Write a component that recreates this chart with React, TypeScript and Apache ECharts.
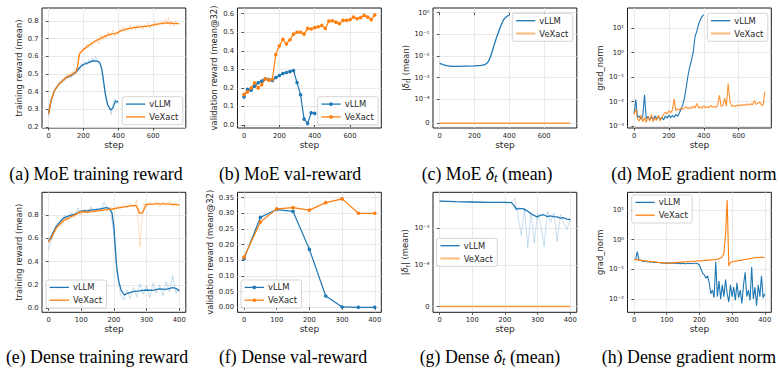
import React, { useEffect, useRef } from 'react';
import * as echarts from 'echarts';

const BLUE = '#1f77b4';
const ORANGE = '#ff7f0e';
const INK = '#262626';
const GRID_LINE = '#e4e4e4';
const SANS = 'DejaVu Sans';
const SERIF = 'Liberation Serif';

// ---------- (a) MoE training reward ----------
const moeTrainRawStep = 10;
const moeTrainVeXactRaw = [
  0.26, 0.33, 0.36, 0.4, 0.41, 0.43, 0.44, 0.46, 0.45, 0.48,
  0.47, 0.5, 0.48, 0.51, 0.49, 0.52, 0.5, 0.57, 0.63, 0.62,
  0.65, 0.64, 0.67, 0.65, 0.68, 0.66, 0.69, 0.68, 0.7, 0.67,
  0.72, 0.69, 0.72, 0.7, 0.74, 0.71, 0.73, 0.75, 0.71, 0.74,
  0.72, 0.76, 0.74, 0.77, 0.74, 0.76, 0.75, 0.78, 0.75, 0.77,
  0.75, 0.78, 0.76, 0.78, 0.75, 0.78, 0.76, 0.79, 0.76, 0.78,
  0.77, 0.8, 0.77, 0.79, 0.78, 0.8, 0.78, 0.81, 0.79, 0.82,
  0.77, 0.8, 0.77, 0.8, 0.78, 0.79,
];
const moeTrainVllmRaw = [
  0.26, 0.33, 0.37, 0.39, 0.42, 0.43, 0.45, 0.45, 0.47, 0.46,
  0.49, 0.48, 0.5, 0.48, 0.51, 0.5, 0.52, 0.53, 0.52, 0.56,
  0.54, 0.57, 0.55, 0.58, 0.56, 0.59, 0.57, 0.6, 0.58, 0.57,
  0.55, 0.5, 0.42, 0.35, 0.33, 0.3, 0.27, 0.33, 0.36, 0.33,
  0.35,
];
const moeTrainVeXactSmooth: [number, number][] = [
  [0, 0.275], [15, 0.35], [34, 0.405], [63, 0.446], [101, 0.48], [130, 0.493], [158, 0.512],
  [168, 0.55], [177, 0.612], [196, 0.635], [234, 0.664], [272, 0.688], [310, 0.707], [349, 0.724],
  [387, 0.73], [425, 0.749], [463, 0.758], [501, 0.764], [539, 0.768], [577, 0.772], [615, 0.781],
  [653, 0.787], [692, 0.79], [711, 0.787], [750, 0.785],
];
const moeTrainVllmSmooth: [number, number][] = [
  [0, 0.275], [15, 0.35], [34, 0.405], [63, 0.446], [101, 0.478], [130, 0.49], [158, 0.51],
  [177, 0.535], [196, 0.552], [225, 0.563], [253, 0.574], [282, 0.573], [295, 0.56], [305, 0.53],
  [314, 0.47], [326, 0.385], [339, 0.325], [358, 0.294], [371, 0.31], [383, 0.345], [396, 0.342],
  [400, 0.34],
];

// ---------- (b) MoE validation reward ----------
const moeValSteps = [
  0, 20, 40, 60, 80, 100, 120, 140, 160, 180, 200, 220, 240, 260, 280, 300, 320, 340, 360,
  380, 400, 420, 440, 460, 480, 500, 520, 540, 560, 580, 600, 620, 640, 660, 680, 700, 720, 740,
];
const moeValVeXact = [
  0.165, 0.179, 0.2, 0.228, 0.2, 0.218, 0.249, 0.242, 0.247, 0.38,
  0.427, 0.462, 0.437, 0.46, 0.49, 0.5, 0.5, 0.49, 0.521, 0.518,
  0.525, 0.53, 0.537, 0.521, 0.56, 0.562, 0.555, 0.547, 0.564, 0.564,
  0.568, 0.582, 0.573, 0.579, 0.591, 0.582, 0.568, 0.593,
];
const moeValVllm = [
  0.152, 0.192, 0.188, 0.21, 0.228, 0.237, 0.249, 0.245, 0.24, 0.256,
  0.267, 0.278, 0.283, 0.288, 0.294, 0.229, 0.163, 0.032, 0.009, 0.066,
  0.063,
];

// ---------- (c) MoE |delta_t| (mean) ----------
const moeDeltaVllm: [number, number][] = [
  [0, 4.5e-3], [20, 4.0e-3], [40, 3.6e-3], [70, 3.3e-3], [100, 3.3e-3], [150, 3.4e-3],
  [200, 3.5e-3], [240, 3.7e-3], [260, 4.0e-3], [272, 4.6e-3], [282, 6.0e-3], [292, 9.0e-3],
  [302, 1.6e-2], [315, 3.6e-2], [328, 7.5e-2], [340, 0.14], [352, 0.25], [366, 0.45],
  [380, 0.62], [394, 0.74], [400, 0.76],
];
const moeDeltaVeXact: [number, number][] = [[0, 0], [750, 0]];

// ---------- (d) MoE gradient norm ----------
const moeGradStep = 10;
const moeGradVllm = [
  3.3e-3, 1.2e-2, 2.2e-3, 2.6e-3, 1.9e-3, 2.4e-3, 1.9e-2, 2.0e-3, 2.5e-3, 1.8e-3,
  2.3e-3, 1.9e-3, 2.6e-3, 2.0e-3, 2.4e-3, 1.9e-3, 2.2e-3, 1.8e-3, 2.6e-3, 2.1e-3,
  2.8e-3, 2.2e-3, 2.7e-3, 2.3e-3, 3.0e-3, 2.5e-3, 3.4e-3, 5.0e-3, 7.5e-3, 1.5e-2,
  4.0e-2, 0.12, 0.27, 0.5, 1.1, 4.6, 7.5, 14, 22, 30,
  36,
];
const moeGradVeXact = [
  3.0e-3, 5.0e-3, 2.0e-3, 1.6e-3, 2.8e-3, 1.5e-3, 2.2e-3, 1.4e-3, 2.5e-3, 1.6e-3,
  3.0e-3, 1.5e-3, 2.2e-3, 1.7e-3, 2.8e-3, 1.6e-3, 2.4e-3, 3.0e-3, 3.6e-3, 3.2e-3,
  4.2e-3, 3.5e-3, 4.5e-3, 1.3e-2, 4.2e-3, 5.0e-3, 4.5e-3, 5.5e-3, 4.8e-3, 5.5e-3,
  6.2e-3, 5.0e-3, 6.0e-3, 5.2e-3, 6.5e-3, 5.4e-3, 8.5e-3, 5.5e-3, 6.2e-3, 5.3e-3,
  6.8e-3, 5.5e-3, 6.3e-3, 5.6e-3, 7.0e-3, 5.8e-3, 6.4e-3, 5.7e-3, 7.5e-3, 1.8e-2,
  6.2e-3, 7.0e-3, 1.4e-2, 6.5e-3, 5.5e-2, 1.0e-2, 6.5e-3, 7.0e-3, 6.3e-3, 7.2e-3,
  6.6e-3, 7.5e-3, 6.8e-3, 7.8e-3, 7.0e-3, 8.0e-3, 7.2e-3, 8.2e-3, 7.5e-3, 1.1e-2,
  7.8e-3, 8.5e-3, 9.5e-3, 7.5e-3, 7.0e-3, 2.6e-2,
];

// ---------- (e) Dense training reward ----------
const denseTrainRawStep = 10;
const denseTrainVeXactRaw = [
  0.55, 0.62, 0.66, 0.72, 0.7, 0.78, 0.74, 0.8, 0.77, 0.84,
  0.8, 0.85, 0.81, 0.86, 0.82, 0.85, 0.83, 0.86, 0.84, 0.87,
  0.84, 0.88, 0.85, 0.89, 0.86, 0.9, 0.87, 0.93, 0.53, 0.9,
  0.87, 0.91, 0.88, 0.92, 0.87, 0.91, 0.88, 0.92, 0.87, 0.91,
  0.88,
];
const denseTrainVllmRaw = [
  0.5, 0.6, 0.68, 0.73, 0.72, 0.8, 0.76, 0.82, 0.79, 0.86,
  0.81, 0.85, 0.82, 0.87, 0.83, 0.86, 0.84, 0.91, 0.86, 0.84,
  0.62, 0.3, 0.12, 0.07, 0.16, 0.08, 0.18, 0.1, 0.21, 0.12,
  0.19, 0.09, 0.22, 0.13, 0.2, 0.11, 0.23, 0.14, 0.28, 0.13,
  0.17,
];
const denseTrainVeXactSmooth: [number, number][] = [
  [0, 0.571], [8, 0.6], [23, 0.686], [44, 0.749], [64, 0.777], [84, 0.806], [100, 0.829],
  [115, 0.823], [135, 0.829], [156, 0.837], [176, 0.843], [196, 0.851], [217, 0.863],
  [237, 0.871], [258, 0.88], [268, 0.88], [274, 0.85], [278, 0.814], [288, 0.82], [294, 0.86],
  [298, 0.891], [329, 0.894], [359, 0.894], [380, 0.891], [400, 0.886],
];
const denseTrainVllmSmooth: [number, number][] = [
  [0, 0.571], [23, 0.7], [44, 0.771], [64, 0.794], [84, 0.809], [100, 0.834], [115, 0.834],
  [135, 0.843], [156, 0.849], [176, 0.863], [186, 0.857], [194, 0.82], [200, 0.7], [205, 0.49],
  [209, 0.343], [215, 0.229], [222, 0.157], [232, 0.114], [242, 0.129], [258, 0.143],
  [278, 0.149], [298, 0.157], [319, 0.154], [339, 0.166], [359, 0.163], [380, 0.177],
  [390, 0.171], [400, 0.149],
];

// ---------- (f) Dense validation reward ----------
const denseValSteps = [0, 50, 100, 150, 200, 250, 300, 350, 400];
const denseValVllm = [0.155, 0.287, 0.312, 0.306, 0.185, 0.036, 0.001, 0.0, 0.0];
const denseValVeXact = [0.16, 0.272, 0.314, 0.318, 0.31, 0.334, 0.346, 0.3, 0.3];

// ---------- (g) Dense |delta_t| (mean) ----------
const denseDeltaRawStep = 10;
const denseDeltaVllmRaw = [
  5.6e-3, 5.5e-3, 5.4e-3, 5.4e-3, 5.3e-3, 5.3e-3, 5.3e-3, 5.2e-3, 5.2e-3, 5.2e-3,
  5.2e-3, 5.1e-3, 5.2e-3, 5.1e-3, 5.1e-3, 5.1e-3, 5.1e-3, 5.0e-3, 5.1e-3, 5.0e-3,
  5.1e-3, 5.0e-3, 5.2e-3, 6.5e-3, 2.3e-3, 6.5e-4, 3.5e-3, 3.0e-4, 2.8e-3, 4.0e-4,
  2.6e-3, 1.2e-3, 3.2e-4, 2.9e-3, 1.5e-3, 2.6e-3, 4.5e-4, 2.4e-3, 1.4e-3, 9.5e-4,
  1.8e-3,
];
const denseDeltaVllmSmooth: [number, number][] = [
  [0, 5.5e-3], [50, 5.3e-3], [100, 5.2e-3], [150, 5.1e-3], [200, 5.1e-3], [220, 5.0e-3],
  [228, 4.2e-3], [235, 3.3e-3], [245, 3.5e-3], [257, 3.4e-3], [268, 3.0e-3], [280, 2.5e-3],
  [298, 2.05e-3], [310, 2.3e-3], [318, 2.35e-3], [330, 2.1e-3], [339, 2.2e-3], [350, 2.1e-3],
  [359, 2.05e-3], [370, 1.9e-3], [380, 1.95e-3], [390, 1.8e-3], [400, 1.75e-3],
];
const denseDeltaVeXact: [number, number][] = [[0, 0], [400, 0]];

// ---------- (h) Dense gradient norm ----------
const denseGradStep = 5;
const denseGradVllm = [
  0.22, 0.21, 0.4, 0.2, 0.2, 0.19, 0.19, 0.185, 0.18, 0.18,
  0.175, 0.18, 0.17, 0.175, 0.17, 0.17, 0.165, 0.17, 0.16, 0.165,
  0.16, 0.165, 0.16, 0.16, 0.165, 0.16, 0.16, 0.155, 0.16, 0.155,
  0.16, 0.155, 0.155, 0.16, 0.155, 0.16, 0.155, 0.16, 0.16, 0.155,
  0.14, 0.1, 0.075, 0.065, 0.05, 0.06, 0.035, 0.015, 0.02, 0.011,
  0.18, 0.012, 0.04, 0.01, 0.03, 0.012, 0.045, 0.015, 0.008, 0.03,
  0.012, 0.025, 0.009, 0.035, 0.011, 0.02, 0.007, 0.03, 0.08, 0.012,
  0.02, 0.009, 0.12, 0.01, 0.025, 0.006, 0.03, 0.012, 0.06, 0.011,
  0.015,
];
const denseGradVeXact = [
  0.22, 0.21, 0.215, 0.2, 0.205, 0.2, 0.195, 0.19, 0.19, 0.185,
  0.185, 0.18, 0.18, 0.175, 0.175, 0.17, 0.17, 0.165, 0.165, 0.16,
  0.165, 0.16, 0.165, 0.17, 0.165, 0.17, 0.17, 0.175, 0.17, 0.175,
  0.18, 0.175, 0.18, 0.185, 0.18, 0.185, 0.19, 0.185, 0.19, 0.195,
  0.19, 0.2, 0.195, 0.2, 0.205, 0.2, 0.21, 0.205, 0.21, 0.215,
  0.21, 0.22, 0.23, 0.24, 0.27, 0.35, 1.5, 22, 0.13, 0.17,
  0.18, 0.185, 0.19, 0.19, 0.2, 0.2, 0.205, 0.21, 0.215, 0.22,
  0.225, 0.23, 0.235, 0.24, 0.245, 0.25, 0.255, 0.25, 0.26, 0.25,
  0.25,
];

// ---------- axis tick values ----------
const moeStepTicks = [0, 200, 400, 600];
const denseStepTicks = [0, 100, 200, 300, 400];
const moeTrainTicks = [0.2, 0.3, 0.4, 0.5, 0.6, 0.7, 0.8];
const moeValTicks = [0.0, 0.1, 0.2, 0.3, 0.4, 0.5, 0.6];
const denseTrainTicks = [0.0, 0.2, 0.4, 0.6, 0.8];
const denseValTicks = [0.0, 0.05, 0.1, 0.15, 0.2, 0.25, 0.3, 0.35];
const moeGradTicks = [1e-3, 1e-2, 1e-1, 1e0, 1e1];
const denseGradTicks = [1e-2, 1e-1, 1e0, 1e1];

const captions = [
  '(a) MoE training reward',
  '(b) MoE val-reward',
  '(c) MoE {i|δ}{s|t} (mean)',
  '(d) MoE gradient norm',
  '(e) Dense training reward',
  '(f) Dense val-reward',
  '(g) Dense {i|δ}{s|t} (mean)',
  '(h) Dense gradient norm',
];

// symmetric-log transform (linthresh 1e-4, linscale 1), in decades
const LINTHRESH = 1e-4;
const symlog = (v: number) =>
  v >= LINTHRESH ? Math.log10(v) : Math.log10(LINTHRESH) - (1 - v / LINTHRESH) / 0.9;
const SYMLOG_ZERO = symlog(0);

const SUP: Record<string, string> = { '-': '⁻', '0': '⁰', '1': '¹', '2': '²', '3': '³', '4': '⁴' };
const pow10Label = (e: number) => '10' + String(e).split('').map((c) => SUP[c]).join('');

// layout of the 2 x 4 panels
const COL_LEFT = [42, 237.5, 433, 627.5];
const ROW_TOP = [8, 192.3];
const PLOT_W = 143.8;
const PLOT_H = 120;
const CAPTION_X = [96, 290, 487, 694, 97, 293, 490, 689];
const CAPTION_Y = [174, 357];

const withSteps = (vals: number[], step: number) => vals.map((v, i) => [i * step, v]);
const zip = (xs: number[], ys: number[]) => ys.map((v, i) => [xs[i], v]);

function lineSeries(name: string, gi: number, data: any[], color: string, extra: any = {}) {
  const { width = 1.3, opacity = 1, symbol = 'none', z = 2 } = extra;
  return {
    type: 'line',
    name,
    xAxisIndex: gi,
    yAxisIndex: gi,
    data,
    symbol,
    symbolSize: 3.6,
    showSymbol: symbol !== 'none',
    silent: true,
    z,
    lineStyle: { color, width, opacity },
    itemStyle: { color, opacity },
  };
}

const tickStyle = { show: true, length: 2.5, inside: false, lineStyle: { color: INK, width: 0.8 } };
const labelStyle = { fontSize: 6.8, fontFamily: SANS, color: INK };

function xAxisFor(gi: number) {
  const top = gi < 4;
  const ticks = top ? moeStepTicks : denseStepTicks;
  const range = gi === 1 ? [-37, 777] : top ? [-37.5, 787.5] : [-20, 420];
  return {
    type: 'value',
    gridIndex: gi,
    min: range[0],
    max: range[1],
    name: 'step',
    nameLocation: 'middle',
    nameGap: top ? 12.5 : 12,
    nameTextStyle: { fontSize: 9, fontFamily: SANS, color: INK },
    axisLine: { show: false },
    axisTick: { ...tickStyle, customValues: ticks },
    axisLabel: { ...labelStyle, margin: 4, customValues: ticks, formatter: (v: number) => String(Math.round(v)) },
    splitLine: { show: true, lineStyle: { color: GRID_LINE, width: 0.8 } },
  };
}

function yAxisFor(gi: number, cfg: any) {
  return {
    type: cfg.type || 'value',
    logBase: 10,
    gridIndex: gi,
    min: cfg.min,
    max: cfg.max,
    name: cfg.name,
    nameLocation: 'middle',
    nameRotate: 90,
    nameGap: cfg.nameGap,
    nameTextStyle: {
      fontSize: 8.4,
      fontFamily: SANS,
      color: INK,
      lineHeight: 10,
      rich: {
        i: { fontSize: 8.4, fontFamily: SANS, fontStyle: 'italic', color: INK, lineHeight: 10 },
        s: { fontSize: 6, fontFamily: SANS, fontStyle: 'italic', color: INK, lineHeight: 6, verticalAlign: 'bottom' },
      },
    },
    axisLine: { show: false },
    axisTick: { ...tickStyle, customValues: cfg.ticks },
    axisLabel: { ...labelStyle, margin: 3.5, customValues: cfg.ticks, formatter: cfg.formatter },
    splitLine: { show: true, lineStyle: { color: GRID_LINE, width: 0.8 } },
  };
}

const fixed = (d: number) => (v: number) => v.toFixed(d);
const logFmt = (v: number) => pow10Label(Math.round(Math.log10(v)));
const symlogFmt = (v: number) => (Math.abs(v - SYMLOG_ZERO) < 0.01 ? '0' : pow10Label(Math.round(v)));

function legendBox(x: number, y: number, entries: any[]) {
  const children: any[] = [
    {
      type: 'rect',
      z: 50,
      shape: { x: 0, y: 0, width: 60.5, height: 28, r: 2 },
      style: { fill: 'rgba(255,255,255,0.85)', stroke: '#cccccc', lineWidth: 0.8 },
    },
  ];
  entries.forEach((e, i) => {
    const ly = 7.4 + i * 12.8;
    children.push({
      type: 'line',
      z: 51,
      shape: { x1: 3.7, y1: ly, x2: 23, y2: ly },
      style: { stroke: e.color, lineWidth: e.width || 1.3, opacity: e.opacity || 1 },
    });
    if (e.marker) {
      children.push({ type: 'circle', z: 52, shape: { cx: 13.3, cy: ly, r: 1.8 }, style: { fill: e.color } });
    }
    children.push({
      type: 'text',
      z: 52,
      x: 27,
      y: ly,
      style: { text: e.label, fontSize: 8.4, fontFamily: SANS, fill: INK, align: 'left', verticalAlign: 'middle' },
    });
  });
  return { type: 'group', x, y, children };
}

function buildOption() {
  const grids = Array.from({ length: 8 }, (_, gi) => ({
    left: COL_LEFT[gi % 4],
    top: ROW_TOP[Math.floor(gi / 4)],
    width: PLOT_W,
    height: PLOT_H,
    show: true,
    borderColor: '#1a1a1a',
    borderWidth: 1,
    backgroundColor: 'transparent',
    containLabel: false,
    outerBoundsMode: 'none',
  }));

  const xAxes = grids.map((_, gi) => xAxisFor(gi));
  const yAxes = [
    yAxisFor(0, { min: 0.193, max: 0.874, ticks: moeTrainTicks, formatter: fixed(1), name: 'training reward (mean)', nameGap: 16.8 }),
    yAxisFor(1, { min: -0.016, max: 0.631, ticks: moeValTicks, formatter: fixed(1), name: 'validation reward (mean@32)', nameGap: 16.3 }),
    yAxisFor(2, { min: -5.328, max: 0.217, ticks: [SYMLOG_ZERO, -4, -3, -2, -1, 0], formatter: symlogFmt, name: '|{i|δ}{s|t}| (mean)', nameGap: 18.5 }),
    yAxisFor(3, { type: 'log', min: Math.pow(10, -3.08), max: Math.pow(10, 1.83), ticks: moeGradTicks, formatter: logFmt, name: 'grad_norm', nameGap: 23 }),
    yAxisFor(4, { min: -0.034, max: 0.994, ticks: denseTrainTicks, formatter: fixed(1), name: 'training reward (mean)', nameGap: 17 }),
    yAxisFor(5, { min: -0.016, max: 0.367, ticks: denseValTicks, formatter: fixed(2), name: 'validation reward (mean@32)', nameGap: 19.5 }),
    yAxisFor(6, { min: -5.266, max: -2.022, ticks: [SYMLOG_ZERO, -4, -3], formatter: symlogFmt, name: '|{i|δ}{s|t}| (mean)', nameGap: 22.8 }),
    yAxisFor(7, { type: 'log', min: Math.pow(10, -2.45), max: Math.pow(10, 1.6), ticks: denseGradTicks, formatter: logFmt, name: 'grad_norm', nameGap: 21.8 }),
  ];

  const sl = (pts: [number, number][]) => pts.map(([s, v]) => [s, symlog(v)]);
  const RAW = { width: 0.8, opacity: 0.3, z: 1 };

  const series = [
    // (a)
    lineSeries('vLLM', 0, withSteps(moeTrainVllmRaw, moeTrainRawStep), BLUE, RAW),
    lineSeries('VeXact', 0, withSteps(moeTrainVeXactRaw, moeTrainRawStep), ORANGE, RAW),
    lineSeries('vLLM', 0, moeTrainVllmSmooth, BLUE),
    lineSeries('VeXact', 0, moeTrainVeXactSmooth, ORANGE),
    // (b)
    lineSeries('vLLM', 1, zip(moeValSteps, moeValVllm), BLUE, { symbol: 'circle', width: 1.2 }),
    lineSeries('VeXact', 1, zip(moeValSteps, moeValVeXact), ORANGE, { symbol: 'circle', width: 1.2 }),
    // (c)
    lineSeries('vLLM', 2, sl(moeDeltaVllm), BLUE),
    lineSeries('VeXact', 2, sl(moeDeltaVeXact), ORANGE, { width: 1.6, opacity: 0.75 }),
    // (d)
    lineSeries('vLLM', 3, withSteps(moeGradVllm, moeGradStep), BLUE, { width: 1.1 }),
    lineSeries('VeXact', 3, withSteps(moeGradVeXact, moeGradStep), ORANGE, { width: 1.1, opacity: 0.85 }),
    // (e)
    lineSeries('vLLM', 4, withSteps(denseTrainVllmRaw, denseTrainRawStep), BLUE, RAW),
    lineSeries('VeXact', 4, withSteps(denseTrainVeXactRaw, denseTrainRawStep), ORANGE, RAW),
    lineSeries('vLLM', 4, denseTrainVllmSmooth, BLUE),
    lineSeries('VeXact', 4, denseTrainVeXactSmooth, ORANGE),
    // (f)
    lineSeries('vLLM', 5, zip(denseValSteps, denseValVllm), BLUE, { symbol: 'circle', width: 1.2 }),
    lineSeries('VeXact', 5, zip(denseValSteps, denseValVeXact), ORANGE, { symbol: 'circle', width: 1.2 }),
    // (g)
    lineSeries('vLLM', 6, withSteps(denseDeltaVllmRaw, denseDeltaRawStep).map(([s, v]) => [s, symlog(v)]), BLUE, RAW),
    lineSeries('vLLM', 6, sl(denseDeltaVllmSmooth), BLUE),
    lineSeries('VeXact', 6, sl(denseDeltaVeXact), ORANGE, { width: 1.6, opacity: 0.75 }),
    // (h)
    lineSeries('vLLM', 7, withSteps(denseGradVllm, denseGradStep), BLUE, { width: 1.1 }),
    lineSeries('VeXact', 7, withSteps(denseGradVeXact, denseGradStep), ORANGE, { width: 1.1 }),
  ];

  const plain = [
    { label: 'vLLM', color: BLUE },
    { label: 'VeXact', color: ORANGE },
  ];
  const marked = [
    { label: 'vLLM', color: BLUE, marker: true },
    { label: 'VeXact', color: ORANGE, marker: true },
  ];
  const faded = [
    { label: 'vLLM', color: BLUE },
    { label: 'VeXact', color: ORANGE, width: 2, opacity: 0.55 },
  ];

  const legends = [
    legendBox(122.3, 96.7, plain),
    legendBox(317.7, 96.7, marked),
    legendBox(512.3, 13.3, faded),
    legendBox(707.3, 13.3, faded),
    legendBox(46, 280, plain),
    legendBox(241, 280, marked),
    legendBox(436.7, 238.3, faded),
    legendBox(631.7, 195, plain),
  ];

  const captionTexts = captions.map((text, i) => ({
    type: 'text',
    x: CAPTION_X[i],
    y: CAPTION_Y[Math.floor(i / 4)],
    style: {
      text,
      fontSize: 17.8,
      fontFamily: SERIF,
      fill: '#000',
      align: 'center',
      verticalAlign: 'middle',
      lineHeight: 20,
      rich: {
        i: { fontSize: 17.8, fontFamily: SERIF, fontStyle: 'italic', fill: '#000', lineHeight: 20 },
        s: { fontSize: 12.5, fontFamily: SERIF, fontStyle: 'italic', fill: '#000', lineHeight: 12, verticalAlign: 'bottom' },
      },
    },
  }));

  return {
    animation: false,
    backgroundColor: '#ffffff',
    textStyle: { fontFamily: SANS },
    grid: grids,
    xAxis: xAxes,
    yAxis: yAxes,
    series,
    graphic: { elements: [...legends, ...captionTexts] },
  };
}

export default function App() {
  const ref = useRef<HTMLDivElement>(null);
  useEffect(() => {
    if (!ref.current) return;
    const chart = echarts.init(ref.current, undefined, { renderer: 'svg', width: 779, height: 373 });
    chart.setOption(buildOption() as any);
    return () => chart.dispose();
  }, []);
  return (
    <div
      ref={ref}
      style={{ position: 'fixed', left: 0, top: 0, width: 779, height: 373, background: '#fff' }}
    />
  );
}
